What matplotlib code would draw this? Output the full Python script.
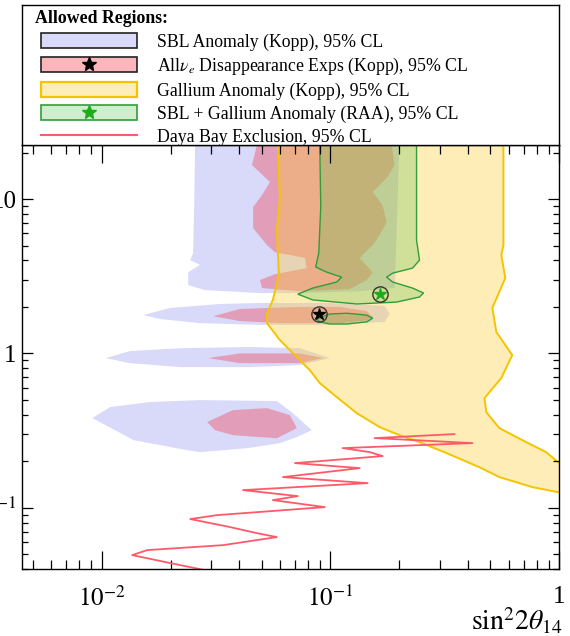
"""Regions permises dans le plan (sin^2 2theta_14, dm^2_41) : SBL, Gallium, Daya Bay."""
import matplotlib
matplotlib.use("Agg")
import matplotlib.pyplot as plt
from matplotlib.patches import Patch
from matplotlib.lines import Line2D
from matplotlib.legend_handler import HandlerTuple
import matplotlib.ticker as mticker

# contours : x = sin^2 2theta_14, y = dm^2_41 (eV^2)
sbl_x = [0.0256, 0.0256, 0.0254, 0.0251, 0.0244, 0.0269, 0.0239, 0.0239, 0.0283,
         0.0492, 0.0735, 0.134, 0.191, 0.200, 0.200]
sbl_y = [28.0, 22.4, 9.85, 4.47, 4.02, 3.74, 3.36, 2.77, 2.57, 2.46, 2.46, 2.53,
         2.65, 22.4, 28.0]
sbl_f1_x = [0.0152, 0.0199, 0.0329, 0.0492, 0.0993, 0.1725, 0.1814, 0.1725, 0.0993,
            0.0492, 0.0269, 0.0180]
sbl_f1_y = [1.77, 1.97, 2.09, 2.12, 2.12, 2.03, 1.80, 1.60, 1.53, 1.53, 1.57, 1.67]
sbl_f2_x = [0.0104, 0.0133, 0.0220, 0.0445, 0.0735, 0.0993, 0.0735, 0.0445, 0.0220, 0.0133]
sbl_f2_y = [0.932, 1.035, 1.08, 1.10, 1.08, 0.932, 0.840, 0.815, 0.815, 0.865]
sbl_f3_x = [0.00911, 0.0109, 0.0163, 0.0269, 0.0583, 0.0685, 0.0829, 0.0713, 0.0601,
            0.0432, 0.0269, 0.0236, 0.0138]
sbl_f3_y = [0.381, 0.449, 0.484, 0.498, 0.491, 0.410, 0.318, 0.287, 0.262, 0.243,
            0.229, 0.236, 0.274]

nue_x = [0.0477, 0.0477, 0.0454, 0.0544, 0.0502, 0.0459, 0.0459, 0.0528, 0.0572,
         0.0773, 0.0788, 0.0572, 0.0492, 0.0502, 0.0735, 0.1214, 0.1440, 0.1529,
         0.1342, 0.1529, 0.1640, 0.1760, 0.1690, 0.1529, 0.1760, 0.1908, 0.1851, 0.1851]
nue_y = [28.0, 22.4, 16.61, 12.89, 10.61, 8.88, 6.49, 5.03, 4.53, 4.15, 3.57, 3.26,
         2.99, 2.65, 2.53, 2.61, 2.99, 3.36, 4.15, 5.03, 5.84, 7.10, 9.14, 11.10,
         13.68, 16.61, 22.4, 28.0]
nue_f1_x = [0.0307, 0.0402, 0.0735, 0.1098, 0.1440, 0.1529, 0.1440, 0.1098, 0.0601, 0.0402]
nue_f1_y = [1.74, 1.94, 2.00, 2.00, 1.88, 1.72, 1.64, 1.57, 1.57, 1.62]
nue_f2_x = [0.0292, 0.0402, 0.0735, 0.0926, 0.0735, 0.0402]
nue_f2_y = [0.932, 1.00, 1.00, 0.932, 0.865, 0.865]
nue_f3_x = [0.0289, 0.0375, 0.0528, 0.0665, 0.0713, 0.0583, 0.0375, 0.0313]
nue_f3_y = [0.359, 0.429, 0.442, 0.398, 0.328, 0.282, 0.295, 0.318]

ga_x = [0.0589, 0.0589, 0.0601, 0.0583, 0.0595, 0.0560, 0.0528, 0.0528, 0.0601,
        0.0713, 0.0812, 0.0898, 0.1065, 0.1302, 0.1640, 0.2005, 0.2450, 0.3214,
        0.4475, 0.547, 0.762, 0.989, 1.1, 1.1, 0.989, 0.877, 0.717, 0.547, 0.480,
        0.471, 0.558, 0.623, 0.531, 0.510, 0.581, 0.558, 0.570, 0.570, 0.570]
ga_y = [28.0, 22.4, 10.0, 6.30, 3.22, 2.22, 1.82, 1.57, 1.22, 0.946, 0.779, 0.642,
        0.521, 0.410, 0.333, 0.295, 0.266, 0.226, 0.183, 0.158, 0.136, 0.126, 0.123,
        0.205, 0.197, 0.229, 0.266, 0.328, 0.416, 0.513, 0.692, 0.975, 1.374, 1.97,
        3.08, 4.34, 5.03, 22.4, 28.0]

raa_x = [0.0898, 0.0898, 0.0907, 0.0889, 0.0862, 0.0963, 0.1120, 0.1065, 0.0837,
         0.0720, 0.0837, 0.1302, 0.1946, 0.2450, 0.2552, 0.2285, 0.1869, 0.1760,
         0.1869, 0.2285, 0.2450, 0.2378, 0.2378, 0.2378, 0.2378]
raa_y = [28.0, 22.4, 8.88, 4.47, 3.63, 3.36, 3.12, 2.90, 2.65, 2.42, 2.22, 2.09,
         2.15, 2.32, 2.46, 2.65, 2.90, 3.12, 3.31, 3.57, 4.02, 5.42, 8.88, 22.4, 28.0]
raa_ilot_x = [0.0871, 0.0993, 0.1178, 0.1440, 0.1529, 0.1440, 0.1178, 0.0993, 0.0898]
raa_ilot_y = [1.67, 1.80, 1.82, 1.77, 1.69, 1.60, 1.55, 1.55, 1.60]

db_x = [0.0313, 0.0199, 0.0136, 0.0158, 0.0339, 0.0583, 0.0477, 0.0364, 0.0244,
        0.0319, 0.0945, 0.0560, 0.0720, 0.0415, 0.1454, 0.0620, 0.1342, 0.0699,
        0.1690, 0.1484, 0.1131, 0.4172, 0.1560, 0.3483]
db_y = [0.0382, 0.0438, 0.0493, 0.0531, 0.0572, 0.0645, 0.0684, 0.0749, 0.0844,
        0.0895, 0.1009, 0.1120, 0.1189, 0.1300, 0.1443, 0.1579, 0.1805, 0.1945,
        0.2160, 0.2292, 0.2433, 0.2622, 0.2825, 0.2999]

# meilleurs ajustements
bf_kopp = (0.0889, 1.80)
bf_raa = (0.164, 2.42)

ticks_x = [0.01, 0.1, 1]
labels_x = ["$10^{-2}$", "$10^{-1}$", "1"]
ticks_y = [0.1, 1, 10]
labels_y = ["$10^{-1}$", "1", "10"]

etiquettes = ["SBL Anomaly (Kopp), 95% CL",
              "All$\\nu_e$ Disappearance Exps (Kopp), 95% CL",
              "Gallium Anomaly (Kopp), 95% CL",
              "SBL + Gallium Anomaly (RAA), 95% CL",
              "Daya Bay Exclusion, 95% CL"]

LAVANDE = (0.55, 0.55, 0.95, 0.33)
ROSE = (0.95, 0.25, 0.30, 0.38)
JAUNE = (1.0, 0.80, 0.20, 0.35)
VERT_F = (0.35, 0.75, 0.30, 0.28)
OR, VERT, ROUGE_DB, ENCRE = "#f5c400", "#2f9e3a", "#ff5a6a", "#222222"

plt.rcParams.update({
    "font.family": ["Liberation Serif", "DejaVu Serif"],
    "mathtext.fontset": "stix",
    "axes.linewidth": 1.0,
})

fig = plt.figure(figsize=(5.7, 6.36), dpi=100)
ax = fig.add_axes([0.0391, 0.1049, 0.9421, 0.6671])

for xs, ys in [(sbl_x, sbl_y), (sbl_f1_x, sbl_f1_y), (sbl_f2_x, sbl_f2_y), (sbl_f3_x, sbl_f3_y)]:
    ax.fill(xs, ys, facecolor=LAVANDE, edgecolor="none", zorder=1)
for xs, ys in [(nue_x, nue_y), (nue_f1_x, nue_f1_y), (nue_f2_x, nue_f2_y), (nue_f3_x, nue_f3_y)]:
    ax.fill(xs, ys, facecolor=ROSE, edgecolor="none", zorder=1.1)
ax.fill(ga_x, ga_y, facecolor=JAUNE, edgecolor=OR, lw=1.4, zorder=1.2)
for xs, ys in [(raa_x, raa_y), (raa_ilot_x, raa_ilot_y)]:
    ax.fill(xs, ys, facecolor=VERT_F, edgecolor=VERT, lw=1.0, zorder=1.3)
ax.plot(db_x, db_y, color=ROUGE_DB, lw=1.3, zorder=2)

for (bx, by), c in [(bf_kopp, "black"), (bf_raa, "#1faa1f")]:
    ax.plot([bx], [by], marker="o", ms=11, mfc="none", mec="#333333", mew=1.0, zorder=3)
    ax.plot([bx], [by], marker="*", ms=9, color=c, zorder=3)

ax.set_xscale("log")
ax.set_yscale("log")
ax.set_xlim(4.5e-3, 1.0)
ax.set_ylim(0.0399, 22.4)
ax.set_xticks(ticks_x, labels=labels_x)
ax.set_yticks(ticks_y, labels=labels_y)
ax.xaxis.set_minor_formatter(mticker.NullFormatter())
ax.yaxis.set_minor_formatter(mticker.NullFormatter())
ax.tick_params(axis="x", which="major", direction="in", length=13, width=0.9,
               top=True, pad=12, labelsize=18)
ax.tick_params(axis="x", which="minor", direction="in", length=6.5, width=0.9, top=True)
ax.tick_params(axis="y", which="major", direction="in", length=8, width=0.9,
               right=True, pad=4, labelsize=18)
ax.tick_params(axis="y", which="minor", direction="in", length=4.3, width=0.9, right=True)
ax.text(1.007, -0.145, r"$\mathrm{sin}^{2}2\theta_{14}$", transform=ax.transAxes,
        ha="right", va="baseline", fontsize=20)

# legende dans un cadre au-dessus du graphe
al = fig.add_axes([0.0391, 0.772, 0.9421, 0.2201])
al.set_xticks([])
al.set_yticks([])
al.text(13 / 536, 1 - 13 / 140, "Allowed Regions:", transform=al.transAxes,
        ha="left", va="center", fontsize=12.8, fontweight="bold")
poignees = [
    Patch(facecolor=LAVANDE, edgecolor=ENCRE, lw=1.2),
    (Patch(facecolor=ROSE, edgecolor=ENCRE, lw=1.2),
     Line2D([], [], ls="none", marker="*", ms=10, color="black")),
    Patch(facecolor=JAUNE, edgecolor=OR, lw=1.6),
    (Patch(facecolor=VERT_F, edgecolor=VERT, lw=1.2),
     Line2D([], [], ls="none", marker="*", ms=10, color="#1faa1f")),
    Line2D([], [], color=ROUGE_DB, lw=1.5),
]
al.legend(poignees, etiquettes, loc="upper left", bbox_to_anchor=(19 / 536, 1 - 28 / 140),
          frameon=False, fontsize=12.8, handlelength=5.4, handleheight=0.9,
          handletextpad=1.1, labelspacing=0.3, borderpad=0, borderaxespad=0,
          handler_map={tuple: HandlerTuple(ndivide=1)})

fig.savefig("out.png", dpi=100)
plt.close(fig)
